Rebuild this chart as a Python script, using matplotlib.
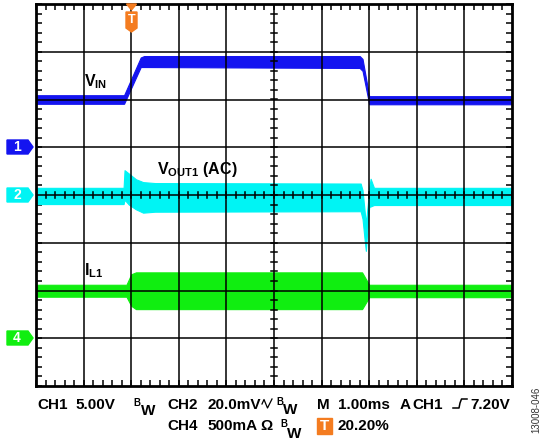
import numpy as np
import matplotlib
matplotlib.use('Agg')
from matplotlib import pyplot as plt
from matplotlib.patches import Polygon, Rectangle
from matplotlib.lines import Line2D

plt.rcParams['font.family'] = ['Liberation Sans', 'DejaVu Sans']
plt.rcParams['mathtext.fontset'] = 'custom'
plt.rcParams['mathtext.rm'] = 'Liberation Sans:bold'
plt.rcParams['mathtext.bf'] = 'Liberation Sans:bold'
plt.rcParams['mathtext.it'] = 'Liberation Sans:bold'

# time in ms (1 ms/div), amplitudes in screen divisions (centre = 0)
t_vin = [0, 1.85, 2.2, 2.27, 6.8, 6.86, 7.0, 10]
vin_hi = [2.09, 2.09, 2.88, 2.91, 2.91, 2.85, 2.07, 2.07]
vin_lo = [1.91, 1.91, 2.68, 2.68, 2.66, 2.6, 1.9, 1.9]

t_vout = [0, 1.84, 1.86, 1.95, 2.1, 2.25, 2.5, 6.82, 6.86, 6.9, 6.93, 6.97, 7.0, 7.03, 7.1, 10]
vout_hi = [0.15, 0.15, 0.52, 0.45, 0.33, 0.27, 0.25, 0.24, 0.1, -0.3, -0.6, -0.2, 0.15, 0.34, 0.15, 0.15]
vout_lo = [-0.19, -0.19, -0.1, -0.2, -0.3, -0.37, -0.35, -0.34, -0.5, -0.9, -1.17, -0.6, -0.25, -0.24, -0.21, -0.21]

t_il = [0, 1.9, 2.0, 2.1, 6.85, 7.0, 10]
il_hi = [-1.88, -1.88, -1.66, -1.62, -1.62, -1.88, -1.88]
il_lo = [-2.13, -2.13, -2.32, -2.39, -2.39, -2.14, -2.14]

blue = '#1414f0'
cyan = '#00f4f4'
green = '#10ee10'
orange = '#f47c20'

W, H = 544, 440
fig = plt.figure(figsize=(W / 100, H / 100), dpi=100)


def fx(x):
    return x / W


def fy(y):
    return 1 - y / H


ax = fig.add_axes([fx(36), fy(386), (512 - 36) / W, (386 - 4) / H])
ax.set_xlim(0, 10)
ax.set_ylim(-4, 4)

ax.fill_between(t_vin, vin_lo, vin_hi, color=blue, lw=0.8, edgecolor=blue, zorder=2)
ax.fill_between(t_vout, vout_lo, vout_hi, color=cyan, lw=0.8, edgecolor=cyan, zorder=2)
ax.fill_between(t_il, il_lo, il_hi, color=green, lw=0.8, edgecolor=green, zorder=2)

# graticule
for i in range(1, 10):
    ax.axvline(i, color='black', lw=1.1, zorder=3)
for j in range(-3, 4):
    ax.axhline(j, color='black', lw=1.1, zorder=3)
minor_x = np.arange(0, 10.01, 0.2)
minor_y = np.arange(-4, 4.01, 0.2)
ax.plot(np.repeat(minor_x, 3), np.tile([-0.07, 0.07, np.nan], len(minor_x)), color='black', lw=1.1, zorder=3)
ax.plot(np.tile([4.93, 5.07, np.nan], len(minor_y)), np.repeat(minor_y, 3), color='black', lw=1.1, zorder=3)

ax.set_xticks(minor_x)
ax.set_yticks(minor_y)
ax.set_xticklabels([])
ax.set_yticklabels([])
ax.tick_params(direction='in', length=4, width=1.1, top=True, right=True, color='black')
for s in ax.spines.values():
    s.set_linewidth(2)
    s.set_zorder(4)

# trace labels
ax.text(1.0, 2.27, r'$\mathbf{V_{IN}}$', fontsize=11.5, fontweight='bold', va='baseline')
ax.text(2.55, 0.45, r'$\mathbf{V_{OUT1}}$ (AC)', fontsize=11.5, fontweight='bold', va='baseline')
ax.text(1.0, -1.68, r'$\mathbf{I_{L1}}$', fontsize=11.5, fontweight='bold', va='baseline')

# channel markers on the left
for label, yy, col in [('1', 147, blue), ('2', 195, cyan), ('4', 338, green)]:
    pts = [(fx(7), fy(yy - 7)), (fx(28), fy(yy - 7)), (fx(33), fy(yy)), (fx(28), fy(yy + 7)), (fx(7), fy(yy + 7))]
    fig.patches.append(Polygon(pts, closed=True, color=col, transform=fig.transFigure))
    fig.text(fx(17), fy(yy), label, color='white', fontsize=10, fontweight='bold', ha='center', va='center')

# trigger marker at top
tx = 131.5
fig.patches.append(Polygon([(fx(tx - 5), fy(4)), (fx(tx + 5), fy(4)), (fx(tx), fy(10))],
                           closed=True, color=orange, transform=fig.transFigure, zorder=5))
fig.patches.append(Polygon([(fx(tx - 5.5), fy(12)), (fx(tx + 5.5), fy(12)), (fx(tx + 5.5), fy(28)),
                            (fx(tx), fy(32)), (fx(tx - 5.5), fy(28))],
                           closed=True, color=orange, transform=fig.transFigure, zorder=5))
fig.text(fx(tx), fy(20), 'T', color='white', fontsize=9, fontweight='bold', ha='center', va='center', zorder=6)

# status text
fs = 11
b1, b2 = 409, 429.5
row1 = [('CH1', 37), ('5.00V', 75), ('CH2', 167), ('20.0mV', 207), ('M', 317), ('1.00ms', 338),
        ('A', 400), ('CH1', 412), ('7.20V', 470)]
row2 = [('CH4', 167), ('500mA', 207), ('\u03a9', 260), ('20.20%', 338)]
for s, x in row1:
    fig.text(fx(x), fy(b1), s, fontsize=fs, fontweight='bold', va='baseline')
for s, x in row2:
    fig.text(fx(x), fy(b2), s, fontsize=fs, fontweight='bold', va='baseline')
# small "B" over "W" (bandwidth limit)
for bx, bb, wx, wb in [(133, 406, 141, 414.5), (276, 405, 283, 414), (280, 427, 287, 437.5)]:
    fig.text(fx(bx), fy(bb), 'B', fontsize=7, fontweight='bold', va='baseline')
    fig.text(fx(wx), fy(wb), 'W', fontsize=fs, fontweight='bold', va='baseline')

# coupling wave and edge symbols
fig.add_artist(Line2D([fx(262), fx(264), fx(267.5), fx(272)], [fy(404), fy(399.5), fy(408), fy(399)],
                      color='black', lw=0.9))
fig.add_artist(Line2D([fx(453), fx(459), fx(460), fx(461.5), fx(467)],
                      [fy(408), fy(408), fy(403), fy(399), fy(399)], color='black', lw=1.1))

fig.patches.append(Rectangle((fx(317), fy(434)), 15 / W, 16 / H, color=orange, transform=fig.transFigure))
fig.text(fx(324.5), fy(426), 'T', color='white', fontsize=11, fontweight='bold', ha='center', va='center')

fig.text(fx(536.5), fy(410), '13008-046', fontsize=7, rotation=90, ha='center', va='center', color='#333333')

fig.savefig('out.png', dpi=100)
